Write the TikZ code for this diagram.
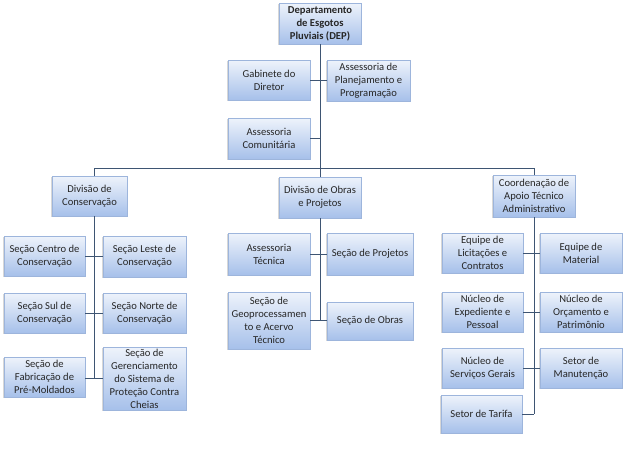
\documentclass[tikz,border=0pt]{standalone}
\usepackage{fontspec}
\setmainfont{Carlito}
\usetikzlibrary{shadows}
\definecolor{boxtop}{HTML}{EEF3FB}
\definecolor{boxbot}{HTML}{A6C0EA}
\definecolor{boxline}{HTML}{9DB5DC}
\definecolor{conn}{HTML}{3E5573}
\definecolor{txt}{HTML}{262626}
\tikzset{
  orgbox/.style={rectangle, draw=boxline, line width=0.4pt, top color=boxtop, bottom color=boxbot,
    drop shadow={shadow xshift=-1.4pt, shadow yshift=-1.4pt, fill=black!45, opacity=0.35},
    align=center, inner sep=0.5pt, text=txt, font=\fontsize{10.6}{13}\selectfont},
  wire/.style={draw=conn, line width=0.8pt}
}
\begin{document}
\begin{tikzpicture}[x=1pt,y=-1pt]
\useasboundingbox (0,0) rectangle (634,450);
% top level
\node[orgbox, minimum width=82pt, minimum height=41pt, font=\bfseries\fontsize{10.6}{13}\selectfont] (top) at (320,23.5) {Departamento\\de Esgotos\\Pluviais (DEP)};
\node[orgbox, minimum width=82pt, minimum height=40pt] (gab) at (269,80) {Gabinete do\\Diretor};
\node[orgbox, minimum width=83pt, minimum height=41pt] (apl) at (368.5,80.5) {Assessoria de\\Planejamento e\\Programação};
\node[orgbox, minimum width=82pt, minimum height=41pt] (com) at (269,138.5) {Assessoria\\Comunitária};
% divisions
\node[orgbox, minimum width=75pt, minimum height=40pt] (cons) at (89.5,196) {Divisão de\\Conservação};
\node[orgbox, minimum width=82pt, minimum height=41pt] (obras) at (320,197.5) {Divisão de Obras\\e Projetos};
\node[orgbox, minimum width=82pt, minimum height=42pt] (coord) at (534,196) {Coordenação de\\Apoio Técnico\\Administrativo};
% left branch
\node[orgbox, minimum width=81pt, minimum height=40pt] (centro) at (44.5,256) {Seção Centro de\\Conservação};
\node[orgbox, minimum width=83pt, minimum height=41pt] (leste) at (144.5,256.5) {Seção Leste de\\Conservação};
\node[orgbox, minimum width=81pt, minimum height=40pt] (sul) at (44.5,313) {Seção Sul de\\Conservação};
\node[orgbox, minimum width=83pt, minimum height=40pt] (norte) at (144.5,313) {Seção Norte de\\Conservação};
\node[orgbox, minimum width=81pt, minimum height=40pt] (fab) at (44.5,377) {Seção de\\Fabricação de\\Pré-Moldados};
\node[orgbox, minimum width=83pt, minimum height=63pt] (gere) at (144.5,378.5) {Seção de\\Gerenciamento\\do Sistema de\\Proteção Contra\\Cheias};
% middle branch
\node[orgbox, minimum width=82pt, minimum height=42pt] (atec) at (269,254) {Assessoria\\Técnica};
\node[orgbox, minimum width=86pt, minimum height=42pt] (proj) at (370,254) {Seção de Projetos};
\node[orgbox, minimum width=82pt, minimum height=57pt] (geo) at (269,320.5) {Seção de\\Geoprocessamen\\to e Acervo\\Técnico};
\node[orgbox, minimum width=86pt, minimum height=38pt] (sobr) at (370,321) {Seção de Obras};
% right branch
\node[orgbox, minimum width=81pt, minimum height=40pt] (lic) at (482.5,253) {Equipe de\\Licitações e\\Contratos};
\node[orgbox, minimum width=82pt, minimum height=40pt] (mat) at (581,253) {Equipe de\\Material};
\node[orgbox, minimum width=81pt, minimum height=40pt] (exp) at (482.5,312) {Núcleo de\\Expediente e\\Pessoal};
\node[orgbox, minimum width=82pt, minimum height=40pt] (orc) at (581,312) {Núcleo de\\Orçamento e\\Patrimônio};
\node[orgbox, minimum width=81pt, minimum height=40pt] (serv) at (482.5,368) {Núcleo de\\Serviços Gerais};
\node[orgbox, minimum width=82pt, minimum height=40pt] (man) at (581,368) {Setor de\\Manutenção};
\node[orgbox, minimum width=81pt, minimum height=38pt] (tar) at (481.5,414) {Setor de Tarifa};
% connectors
\coordinate (bl) at (94,168);
\coordinate (br) at (534,168);
\coordinate (le) at (94,378);
\draw[wire] (top.south) -- (obras.north);
\draw[wire] (gab.east) -- (gab.east -| apl.west);
\draw[wire] (com.east) -- (com.east -| top.south);
\draw[wire] (bl) -- (br);
\draw[wire] (bl) -- (bl |- cons.north);
\draw[wire] (br) -- (coord.north);
\draw[wire] (bl |- cons.south) -- (le);
\draw[wire] (centro.east) -- (centro.east -| leste.west);
\draw[wire] (sul.east) -- (norte.west);
\draw[wire] (fab.east |- le) -- (le -| gere.west);
\draw[wire] (obras.south) -- (obras.south |- geo.east);
\draw[wire] (atec.east) -- (proj.west);
\draw[wire] (geo.east) -- (geo.east -| sobr.west);
\draw[wire] (coord.south) -- (coord.south |- tar.east);
\draw[wire] (lic.east) -- (mat.west);
\draw[wire] (exp.east) -- (orc.west);
\draw[wire] (serv.east) -- (man.west);
\draw[wire] (tar.east) -- (tar.east -| coord.south);
\end{tikzpicture}
\end{document}
